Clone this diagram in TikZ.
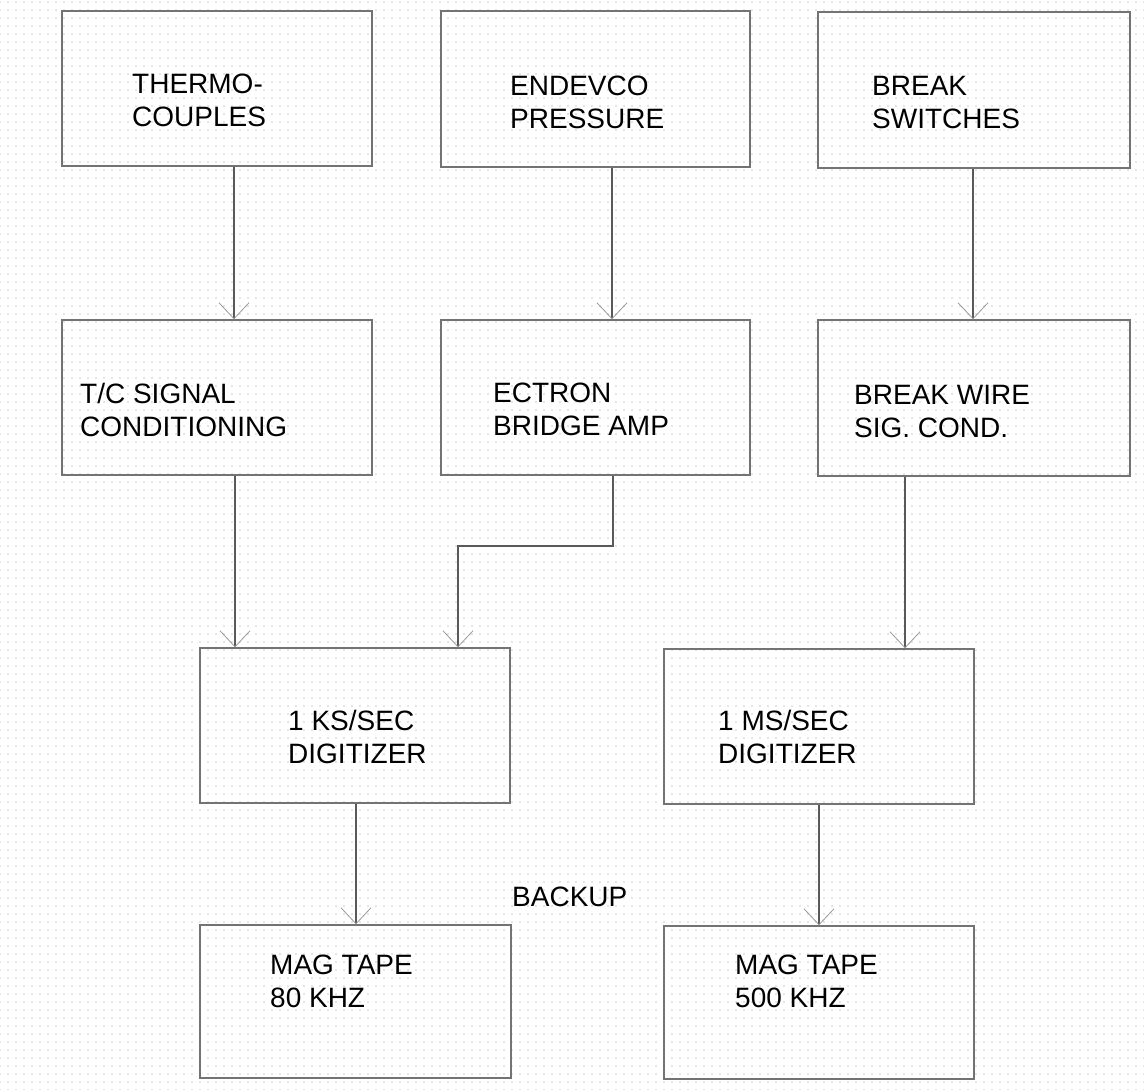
\documentclass[tikz,border=0pt]{standalone}
\usepackage{fontspec}
\setmainfont{Liberation Sans}
\usetikzlibrary{arrows.meta,patterns.meta}
\tikzset{
  box/.style={draw=black!55, line width=1.3pt, minimum width=310pt, minimum height=155pt, inner sep=0pt},
  txt/.style={anchor=north west, inner sep=0pt, align=left, font=\fontsize{28}{33}\selectfont, text=black},
  arr/.style={draw=black!65, line width=1.2pt, -{Straight Barb[length=16pt,width=30pt,line width=0.8pt,color=black!40]}},
}
\begin{document}
\begin{tikzpicture}[x=1pt,y=-1pt]
\useasboundingbox (0,0) rectangle (1144,1090);
\fill[white] (0,0) rectangle (1144,1090);
\fill[pattern={Dots[distance=8pt,radius=0.55pt]}, pattern color=black!45] (0,0) rectangle (1144,1090);

% boxes
\node[box, minimum width=310pt, minimum height=155pt] (b1) at (217,88.5) {};
\node[box, minimum width=309pt, minimum height=156pt] (b2) at (595.5,89) {};
\node[box, minimum width=312pt, minimum height=156pt] (b3) at (974,90) {};
\node[box, minimum width=310pt, minimum height=155pt] (b4) at (217,397.5) {};
\node[box, minimum width=309pt, minimum height=155pt] (b5) at (595.5,397.5) {};
\node[box, minimum width=312pt, minimum height=156pt] (b6) at (974,398) {};
\node[box, minimum width=310pt, minimum height=155pt] (b7) at (355,725.5) {};
\node[box, minimum width=310pt, minimum height=155pt] (b8) at (819,726.5) {};
\node[box, minimum width=311pt, minimum height=153pt] (b9) at (355.5,1001.5) {};
\node[box, minimum width=310pt, minimum height=153pt] (b10) at (819,1002.5) {};

% texts
\node[txt] (t1) at (132,74) {THERMO-\\COUPLES};
\node[txt] (t2) at (510,76) {ENDEVCO\\PRESSURE};
\node[txt] (t3) at (872,76) {BREAK\\SWITCHES};
\node[txt] (t4) at (80,383) {T/C SIGNAL\\CONDITIONING};
\node[txt] (t5) at (493,383) {ECTRON\\BRIDGE AMP};
\node[txt] (t6) at (854,385) {BREAK WIRE\\SIG. COND.};
\node[txt] (t7) at (288,710) {1 KS/SEC\\DIGITIZER};
\node[txt] (t8) at (718,710) {1 MS/SEC\\DIGITIZER};
\node[txt] (t9) at (270,955) {MAG TAPE\\80 KHZ};
\node[txt] (t10) at (735,955) {MAG TAPE\\500 KHZ};
\node[txt] (backup) at (512,887) {BACKUP};

% connector x positions
\coordinate (x1) at (234,0);
\coordinate (x2) at (612,0);
\coordinate (x3) at (973,0);
\coordinate (x4) at (235,0);
\coordinate (x6) at (905,0);
\coordinate (x7) at (356,0);
\coordinate (x8) at (819,0);
\coordinate (e1) at (613,546);
\coordinate (e2) at (458,546);

% connectors
\draw[arr] (b1.south -| x1) -- (b4.north -| x1);
\draw[arr] (b2.south -| x2) -- (b5.north -| x2);
\draw[arr] (b3.south -| x3) -- (b6.north -| x3);
\draw[arr] (b4.south -| x4) -- (b7.north -| x4);
\draw[arr] (b5.south -| e1) -- (e1) -- (e2) -- (b7.north -| e2);
\draw[arr] (b6.south -| x6) -- (b8.north -| x6);
\draw[arr] (b7.south -| x7) -- (b9.north -| x7);
\draw[arr] (b8.south -| x8) -- (b10.north -| x8);
\end{tikzpicture}
\end{document}
